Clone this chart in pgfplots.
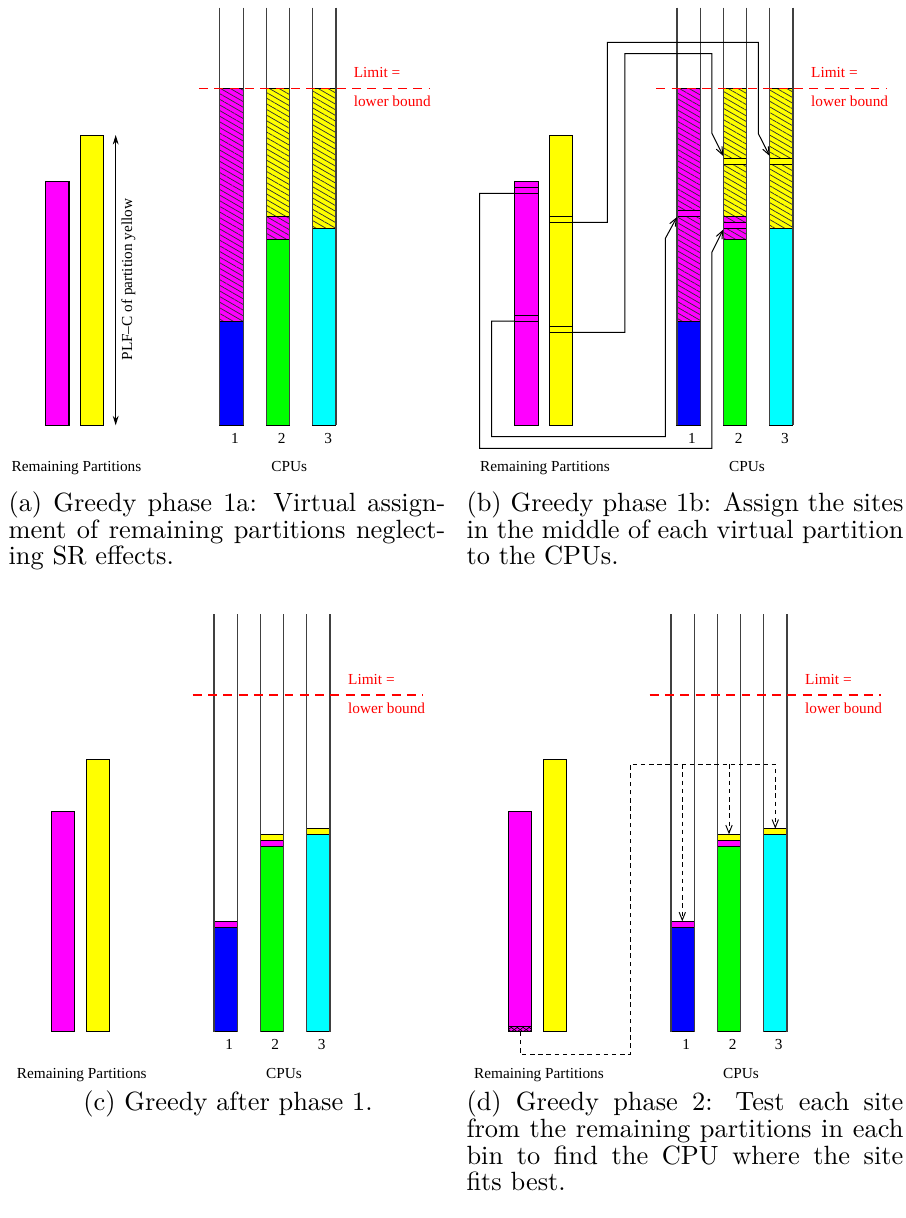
\documentclass[border=0pt]{standalone}
\usepackage{fontspec}
\usepackage{pgfplots}
\pgfplotsset{compat=1.18}
\usetikzlibrary{patterns,patterns.meta,arrows.meta}
\newfontfamily\tms{Liberation Serif}
\definecolor{xmag}{RGB}{255,0,255}
\definecolor{xyel}{RGB}{255,255,0}
\definecolor{xblue}{RGB}{0,0,255}
\definecolor{xgreen}{RGB}{0,255,0}
\definecolor{xcyan}{RGB}{0,255,255}
\newcommand\capfont{\fontsize{10}{12}\selectfont}
\newcommand\sfnt{\tms\fontsize{5.8}{7}\selectfont}
\newcommand\bx[5]{\addplot[#1] coordinates {(#2,#3) (#4,#3) (#4,#5) (#2,#5)} -- cycle;}
\tikzset{
  hatch/.style={postaction={pattern color=black!80,pattern={Lines[angle=-30,distance=1.85pt,line width=0.28pt]}}},
  xhatch/.style={postaction={pattern color=black,pattern={Lines[angle=35,distance=1.3pt,line width=0.25pt]}},postaction={pattern color=black,pattern={Lines[angle=-35,distance=1.3pt,line width=0.25pt]}}},
  bar/.style={draw=black,line width=0.38pt},
  wall/.style={black!75,line width=0.4pt},
  limit/.style={red,line width=0.45pt,dash pattern=on 3.4pt off 2.4pt},
  conn/.style={black,line width=0.38pt},
  barb/.style={-{Straight Barb[length=3pt,width=2.4pt]}},
  dconn/.style={black,line width=0.35pt,dash pattern=on 1.7pt off 1.4pt},
}
\begin{document}
\begin{tikzpicture}
\begin{axis}[
  width=343.4pt, height=461.66pt, scale only axis,
  xmin=0, xmax=906, ymin=0, ymax=1218, y dir=reverse,
  hide axis, clip=false,
]
\addplot[draw=none] coordinates {(0,0) (906,1218)};
% ================= panel (a) =================
\bx{fill=xmag,bar}{45.7}{181.7}{69}{425.3}
\bx{fill=xyel,bar}{80.3}{135}{103.7}{425.3}
\bx{fill=xblue,bar}{219.7}{321}{243.3}{425.3}
\bx{fill=xmag,bar,hatch}{219.7}{88.7}{243.3}{321}
\bx{fill=xgreen,bar}{266.3}{239.3}{289.3}{425.3}
\bx{fill=xmag,bar,hatch}{266.3}{216.3}{289.3}{239.3}
\bx{fill=xyel,bar,hatch}{266.3}{88.7}{289.3}{216.3}
\bx{fill=xcyan,bar}{312.7}{228.3}{336}{425.3}
\bx{fill=xyel,bar,hatch}{312.7}{88.7}{336}{228.3}
\addplot[wall] coordinates {(219.7,7.5) (219.7,425.3)};
\addplot[wall] coordinates {(243.3,7.5) (243.3,425.3)};
\addplot[wall] coordinates {(266.3,7.5) (266.3,425.3)};
\addplot[wall] coordinates {(289.3,7.5) (289.3,425.3)};
\addplot[wall] coordinates {(312.7,7.5) (312.7,425.3)};
\addplot[wall] coordinates {(336,7.5) (336,425.3)};
\addplot[black,line width=0.4pt,{Stealth[length=3.6pt,width=2.2pt]}-{Stealth[length=3.6pt,width=2.2pt]}] coordinates {(115.7,135) (115.7,425.3)};
\addplot[limit] coordinates {(199,88.7) (430,88.7)};
\node[rotate=90,font=\sfnt] at (128.3,279.5) {PLF–C of partition yellow};
\node[anchor=base west,inner sep=0,text=red,font=\sfnt] at (353.3,77.3) {Limit =};
\node[anchor=base west,inner sep=0,text=red,font=\sfnt] at (353.3,106) {lower bound};
\node[anchor=base,inner sep=0,font=\sfnt] at (235,443.3) {1};
\node[anchor=base,inner sep=0,font=\sfnt] at (281.7,443.3) {2};
\node[anchor=base,inner sep=0,font=\sfnt] at (328.3,443.3) {3};
\node[anchor=base,inner sep=0,font=\sfnt] at (76.5,471) {Remaining Partitions};
\node[anchor=base,inner sep=0,font=\sfnt] at (289.3,471) {CPUs};
% ================= panel (b) =================
\bx{fill=xmag,bar}{514.7}{181.7}{538.3}{425.3}
\bx{fill=xmag,bar}{514.7}{187.7}{538.3}{193.3}
\bx{fill=xmag,bar}{514.7}{315.3}{538.3}{321}
\bx{fill=xyel,bar}{549.3}{135}{572.7}{425.3}
\bx{fill=xyel,bar}{549.3}{216.7}{572.7}{222.3}
\bx{fill=xyel,bar}{549.3}{326.7}{572.7}{332.3}
\bx{fill=xblue,bar}{677}{321}{700.3}{425.3}
\bx{fill=xmag,bar,hatch}{677}{88.7}{700.3}{321}
\bx{fill=xmag,bar}{677}{210.7}{700.3}{216.3}
\bx{fill=xgreen,bar}{723.3}{239.3}{746.7}{425.3}
\bx{fill=xmag,bar,hatch}{723.3}{216.3}{746.7}{239.3}
\bx{fill=xmag,bar}{723.3}{222.3}{746.7}{228.3}
\bx{fill=xyel,bar,hatch}{723.3}{88.7}{746.7}{216.3}
\bx{fill=xyel,bar}{723.3}{158.7}{746.7}{164.3}
\bx{fill=xcyan,bar}{769.7}{228.3}{793}{425.3}
\bx{fill=xyel,bar,hatch}{769.7}{88.7}{793}{228.3}
\bx{fill=xyel,bar}{769.7}{158.7}{793}{164.3}
\addplot[wall] coordinates {(677,7.5) (677,425.3)};
\addplot[wall] coordinates {(700.3,7.5) (700.3,425.3)};
\addplot[wall] coordinates {(723.3,7.5) (723.3,425.3)};
\addplot[wall] coordinates {(746.7,7.5) (746.7,425.3)};
\addplot[wall] coordinates {(769.7,7.5) (769.7,425.3)};
\addplot[wall] coordinates {(793,7.5) (793,425.3)};
\addplot[conn,barb] coordinates {(514.7,193.3) (479.7,193.3) (479.7,448.3) (712,448.3) (712,252) (723.3,229.5)};
\addplot[conn,barb] coordinates {(514.7,321) (491.7,321) (491.7,436.7) (665.3,436.7) (665.3,238.5) (677,217)};
\addplot[conn,barb] coordinates {(572.7,222.3) (607.3,222.3) (607.3,42.3) (758.3,42.3) (758.3,133.5) (769.7,156)};
\addplot[conn,barb] coordinates {(572.7,332.3) (625,332.3) (625,53.7) (712,53.7) (712,133.5) (723.3,156)};
\addplot[limit] coordinates {(656.3,88.7) (886.3,88.7)};
\node[anchor=base west,inner sep=0,text=red,font=\sfnt] at (810.7,77.3) {Limit =};
\node[anchor=base west,inner sep=0,text=red,font=\sfnt] at (810.7,106) {lower bound};
\node[anchor=base,inner sep=0,font=\sfnt] at (692,443.3) {1};
\node[anchor=base,inner sep=0,font=\sfnt] at (738.7,443.3) {2};
\node[anchor=base,inner sep=0,font=\sfnt] at (785,443.3) {3};
\node[anchor=base,inner sep=0,font=\sfnt] at (545,471) {Remaining Partitions};
\node[anchor=base,inner sep=0,font=\sfnt] at (747,471) {CPUs};
% ================= panel (c) =================
\bx{fill=xmag,bar}{51.3}{811}{74.7}{1031.7}
\bx{fill=xyel,bar}{86.3}{759}{109.7}{1031.7}
\bx{fill=xblue,bar}{214}{927}{237.3}{1031.7}
\bx{fill=xmag,bar}{214}{921.3}{237.3}{927}
\bx{fill=xgreen,bar}{260.3}{846.3}{283.7}{1031.7}
\bx{fill=xmag,bar}{260.3}{840.3}{283.7}{846.3}
\bx{fill=xyel,bar}{260.3}{834.3}{283.7}{840.3}
\bx{fill=xcyan,bar}{306.7}{834.3}{330}{1031.7}
\bx{fill=xyel,bar}{306.7}{828.7}{330}{834.3}
\addplot[wall] coordinates {(214,614) (214,1031.7)};
\addplot[wall] coordinates {(237.3,614) (237.3,1031.7)};
\addplot[wall] coordinates {(260.3,614) (260.3,1031.7)};
\addplot[wall] coordinates {(283.7,614) (283.7,1031.7)};
\addplot[wall] coordinates {(306.7,614) (306.7,1031.7)};
\addplot[wall] coordinates {(330,614) (330,1031.7)};
\addplot[limit] coordinates {(192.7,695) (423.3,695)};
\node[anchor=base west,inner sep=0,text=red,font=\sfnt] at (347.7,684) {Limit =};
\node[anchor=base west,inner sep=0,text=red,font=\sfnt] at (347.7,713.3) {lower bound};
\node[anchor=base,inner sep=0,font=\sfnt] at (229.3,1049.3) {1};
\node[anchor=base,inner sep=0,font=\sfnt] at (275.3,1049.3) {2};
\node[anchor=base,inner sep=0,font=\sfnt] at (321.7,1049.3) {3};
\node[anchor=base,inner sep=0,font=\sfnt] at (81.8,1078.7) {Remaining Partitions};
\node[anchor=base,inner sep=0,font=\sfnt] at (284,1078.7) {CPUs};
% ================= panel (d) =================
\bx{fill=xmag,bar}{508.3}{811}{531.7}{1031.7}
\bx{fill=xmag,bar,xhatch}{508.3}{1026}{531.7}{1031.7}
\bx{fill=xyel,bar}{543.3}{759}{566.7}{1031.7}
\bx{fill=xblue,bar}{671}{927}{694.3}{1031.7}
\bx{fill=xmag,bar}{671}{921.3}{694.3}{927}
\bx{fill=xgreen,bar}{717.3}{846.3}{740.7}{1031.7}
\bx{fill=xmag,bar}{717.3}{840.3}{740.7}{846.3}
\bx{fill=xyel,bar}{717.3}{834.3}{740.7}{840.3}
\bx{fill=xcyan,bar}{763.7}{834.3}{787}{1031.7}
\bx{fill=xyel,bar}{763.7}{828.7}{787}{834.3}
\addplot[wall] coordinates {(671,614) (671,1031.7)};
\addplot[wall] coordinates {(694.3,614) (694.3,1031.7)};
\addplot[wall] coordinates {(717.3,614) (717.3,1031.7)};
\addplot[wall] coordinates {(740.7,614) (740.7,1031.7)};
\addplot[wall] coordinates {(763.7,614) (763.7,1031.7)};
\addplot[wall] coordinates {(787,614) (787,1031.7)};
\addplot[dconn,barb] coordinates {(520,1031.7) (520,1054.3) (630,1054.3) (630,764.3) (775.3,764.3) (775.3,828.7)};
\addplot[dconn,barb] coordinates {(682.3,764.3) (682.3,921.3)};
\addplot[dconn,barb] coordinates {(729,764.3) (729,834.3)};
\addplot[limit] coordinates {(649.7,695) (880.7,695)};
\node[anchor=base west,inner sep=0,text=red,font=\sfnt] at (804.7,684) {Limit =};
\node[anchor=base west,inner sep=0,text=red,font=\sfnt] at (804.7,713.3) {lower bound};
\node[anchor=base,inner sep=0,font=\sfnt] at (686.3,1049.3) {1};
\node[anchor=base,inner sep=0,font=\sfnt] at (732.7,1049.3) {2};
\node[anchor=base,inner sep=0,font=\sfnt] at (778.7,1049.3) {3};
\node[anchor=base,inner sep=0,font=\sfnt] at (539,1078.7) {Remaining Partitions};
\node[anchor=base,inner sep=0,font=\sfnt] at (741,1078.7) {CPUs};
% ================= captions =================
\node[anchor=base west,inner sep=0] at (8,511.5) {\capfont\makebox[165.6pt][s]{(a) Greedy phase 1a: Virtual assign-}};
\node[anchor=base west,inner sep=0] at (8,538.2) {\capfont\makebox[165.6pt][s]{ment of remaining partitions neglect-}};
\node[anchor=base west,inner sep=0] at (8,564.9) {\capfont ing SR effects.};
\node[anchor=base west,inner sep=0] at (466,511.5) {\capfont\makebox[165.6pt][s]{(b) Greedy phase 1b: Assign the sites}};
\node[anchor=base west,inner sep=0] at (466,538.2) {\capfont\makebox[165.6pt][s]{in the middle of each virtual partition}};
\node[anchor=base west,inner sep=0] at (466,564.9) {\capfont to the CPUs.};
\node[anchor=base,inner sep=0] at (228,1110.8) {\capfont (c) Greedy after phase 1.};
\node[anchor=base west,inner sep=0] at (466,1110.8) {\capfont\makebox[165.6pt][s]{(d) Greedy phase 2: Test each site}};
\node[anchor=base west,inner sep=0] at (466,1137.5) {\capfont\makebox[165.6pt][s]{from the remaining partitions in each}};
\node[anchor=base west,inner sep=0] at (466,1164.2) {\capfont\makebox[165.6pt][s]{bin to find the CPU where the site}};
\node[anchor=base west,inner sep=0] at (466,1190.9) {\capfont fits best.};
\end{axis}
\end{tikzpicture}
\end{document}
